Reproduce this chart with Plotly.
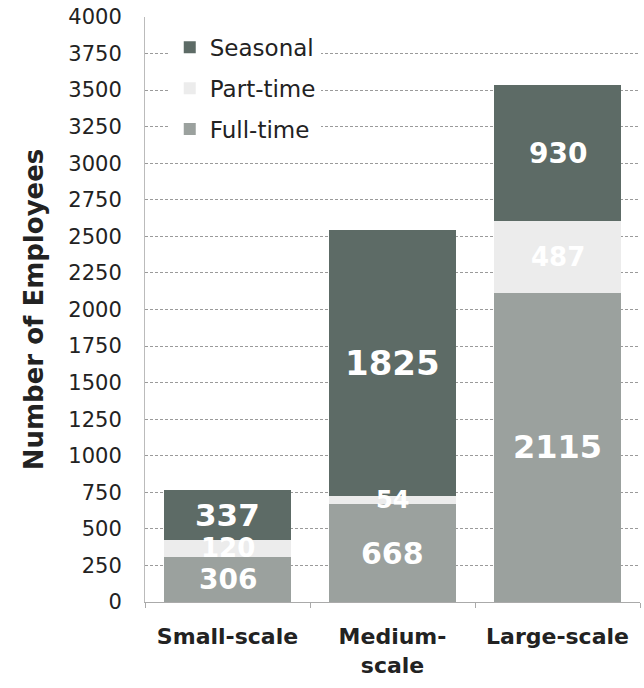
import plotly.graph_objects as go
import numpy as np

categories = ["Small-scale", "Medium-scale", "Large-scale"]
category_labels = ["Small-scale", "Medium-<br>scale", "Large-scale"]
full_time = [306, 668, 2115]
part_time = [120, 54, 487]
seasonal = [337, 1825, 930]
y_ticks = list(range(0, 4001, 250))

colors = {"Full-time": "#9ba19e", "Part-time": "#ececec", "Seasonal": "#5d6b66"}
legend_rank = {"Seasonal": 1, "Part-time": 2, "Full-time": 3}
label_sizes = {"Full-time": [28, 30, 32], "Part-time": [26, 24, 26], "Seasonal": [31, 34, 28]}

series = [("Full-time", full_time), ("Part-time", part_time), ("Seasonal", seasonal)]

fig = go.Figure()
base = np.zeros(len(categories))
annotations = []
for name, vals in series:
    fig.add_trace(go.Bar(
        name=name, x=categories, y=vals, legendgroup=name, legendrank=legend_rank[name],
        marker=dict(color=colors[name], line=dict(width=0)),
        hoverinfo="skip",
    ))
    mids = base + np.array(vals) / 2
    for c, v, m, s in zip(categories, vals, mids, label_sizes[name]):
        annotations.append(dict(
            x=c, y=m, xref="x", yref="y", text="<b>%d</b>" % v, showarrow=False,
            font=dict(family="DejaVu Sans", size=s, color="white"),
        ))
    base = base + np.array(vals)

fig.update_layout(
    width=644, height=688,
    margin=dict(l=145, r=4, t=17, b=86),
    barmode="stack", bargap=0.23,
    plot_bgcolor="white", paper_bgcolor="white",
    showlegend=True,
    legend=dict(
        x=0.05, y=0.985, xanchor="left", yanchor="top",
        traceorder="grouped", bgcolor="white",
        font=dict(family="DejaVu Sans", size=23, color="#222222"),
        itemwidth=30, tracegroupgap=8,
    ),
    annotations=annotations,
    font=dict(family="DejaVu Sans", color="#222222"),
)
fig.update_xaxes(
    tickvals=categories, ticktext=["<b>" + t + "</b>" for t in category_labels],
    tickfont=dict(family="DejaVu Sans", size=22, color="#222222"),
    showline=True, linecolor="#aaaaaa", linewidth=1,
    ticks="outside", tickson="boundaries", ticklen=5, tickcolor="#aaaaaa",
    ticklabelstandoff=15,
    showgrid=False,
)
fig.update_yaxes(
    range=[0, 4000], tickvals=y_ticks,
    tickfont=dict(family="DejaVu Sans", size=21, color="#222222"),
    showline=True, linecolor="#bbbbbb", linewidth=1,
    showgrid=True, gridcolor="#9a9a9a", griddash="3px,2px", gridwidth=1,
    ticks="", zeroline=False, ticklabelstandoff=18,
    title=dict(text="<b>Number of Employees</b>", font=dict(family="DejaVu Sans", size=26, color="#222222"), standoff=17),
)

fig.write_html("out.html")
